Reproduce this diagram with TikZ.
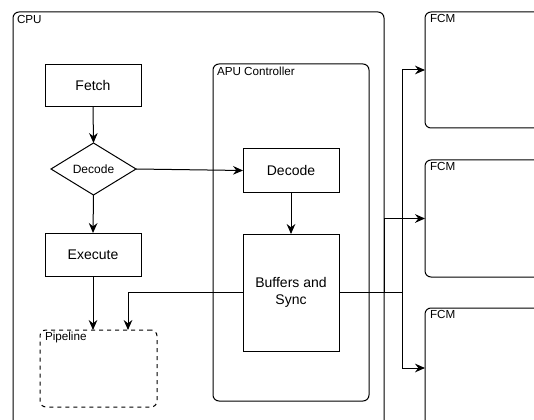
\documentclass[tikz,border=0pt]{standalone}
\usepackage{fontspec}
\setmainfont{Liberation Sans}
\usetikzlibrary{shapes.geometric,arrows.meta,calc}
\begin{document}
\begin{tikzpicture}[x=0.75pt,y=-0.75pt,
  line width=0.75pt,
  every node/.style={inner sep=0pt, outer sep=0pt},
  container/.style={draw, rounded corners=4.5pt, anchor=north west},
  stepbox/.style={draw, rectangle, font=\fontsize{10.5pt}{12.5pt}\selectfont, align=center},
  tag/.style={anchor=west, font=\fontsize{8.75pt}{10pt}\selectfont},
  arr/.style={-{Stealth[length=7.5pt,width=6.5pt,inset=2.5pt]}}
]
\useasboundingbox (0,0) rectangle (534,420);

% outer containers
\node[container, minimum width=278.25pt, minimum height=322.5pt] (cpu) at (13,12) {};
\node[tag] (cpulabel) at (17,19) {CPU};

\node[container, minimum width=117pt, minimum height=252.75pt] (apu) at (213,64) {};
\node[tag] (apulabel) at (217,71) {APU Controller};

\node[container, minimum width=97.5pt, minimum height=87pt] (fcm1) at (425,12) {};
\node[tag] (fcm1label) at (430,18) {FCM};
\node[container, minimum width=97.5pt, minimum height=87.75pt] (fcm2) at (425,160) {};
\node[tag] (fcm2label) at (430,166) {FCM};
\node[container, minimum width=97.5pt, minimum height=97.5pt] (fcm3) at (425,308) {};
\node[tag] (fcm3label) at (430,314) {FCM};

\node[container, dashed, minimum width=87.75pt, minimum height=57.75pt] (pipe) at (40,330) {};
\node[tag] (pipelabel) at (45,337) {Pipeline};

% CPU stages
\node[stepbox, minimum width=72pt, minimum height=31.5pt] (fetch) at (93,85.5) {Fetch};
\node[draw, diamond, aspect=1.63, minimum width=63.75pt, minimum height=39pt,
      font=\fontsize{9pt}{11pt}\selectfont] (dec1) at (93.5,169) {Decode};
\node[stepbox, minimum width=72pt, minimum height=32.25pt] (exec) at (93,254.5) {Execute};

% APU controller blocks
\node[stepbox, minimum width=72pt, minimum height=32.25pt] (dec2) at (291,170.5) {Decode};
\node[stepbox, minimum width=72pt, minimum height=87.75pt] (buf) at (291,292.5) {Buffers and\\Sync};

% connectors
\draw[arr] (fetch.south) -- (dec1.north);
\draw[arr] (dec1.south) -- (exec.north);
\draw[arr] (exec.south) -- (exec.south |- pipe.north);
\draw[arr] (dec1.east) -- (dec2.west);
\draw[arr] (dec2.south) -- (buf.north);
\draw[arr] (buf.west) -| ($(pipe.north)+(29.5,0)$);
\draw[arr] (buf.east) -- ++(63,0) |- (fcm1.west);
\draw[arr] (buf.east) -- ++(45,0) |- (fcm2.west);
\draw[arr] (buf.east) -- ++(63,0) |- ($(fcm3.north west)+(0,60)$);
\end{tikzpicture}
\end{document}
